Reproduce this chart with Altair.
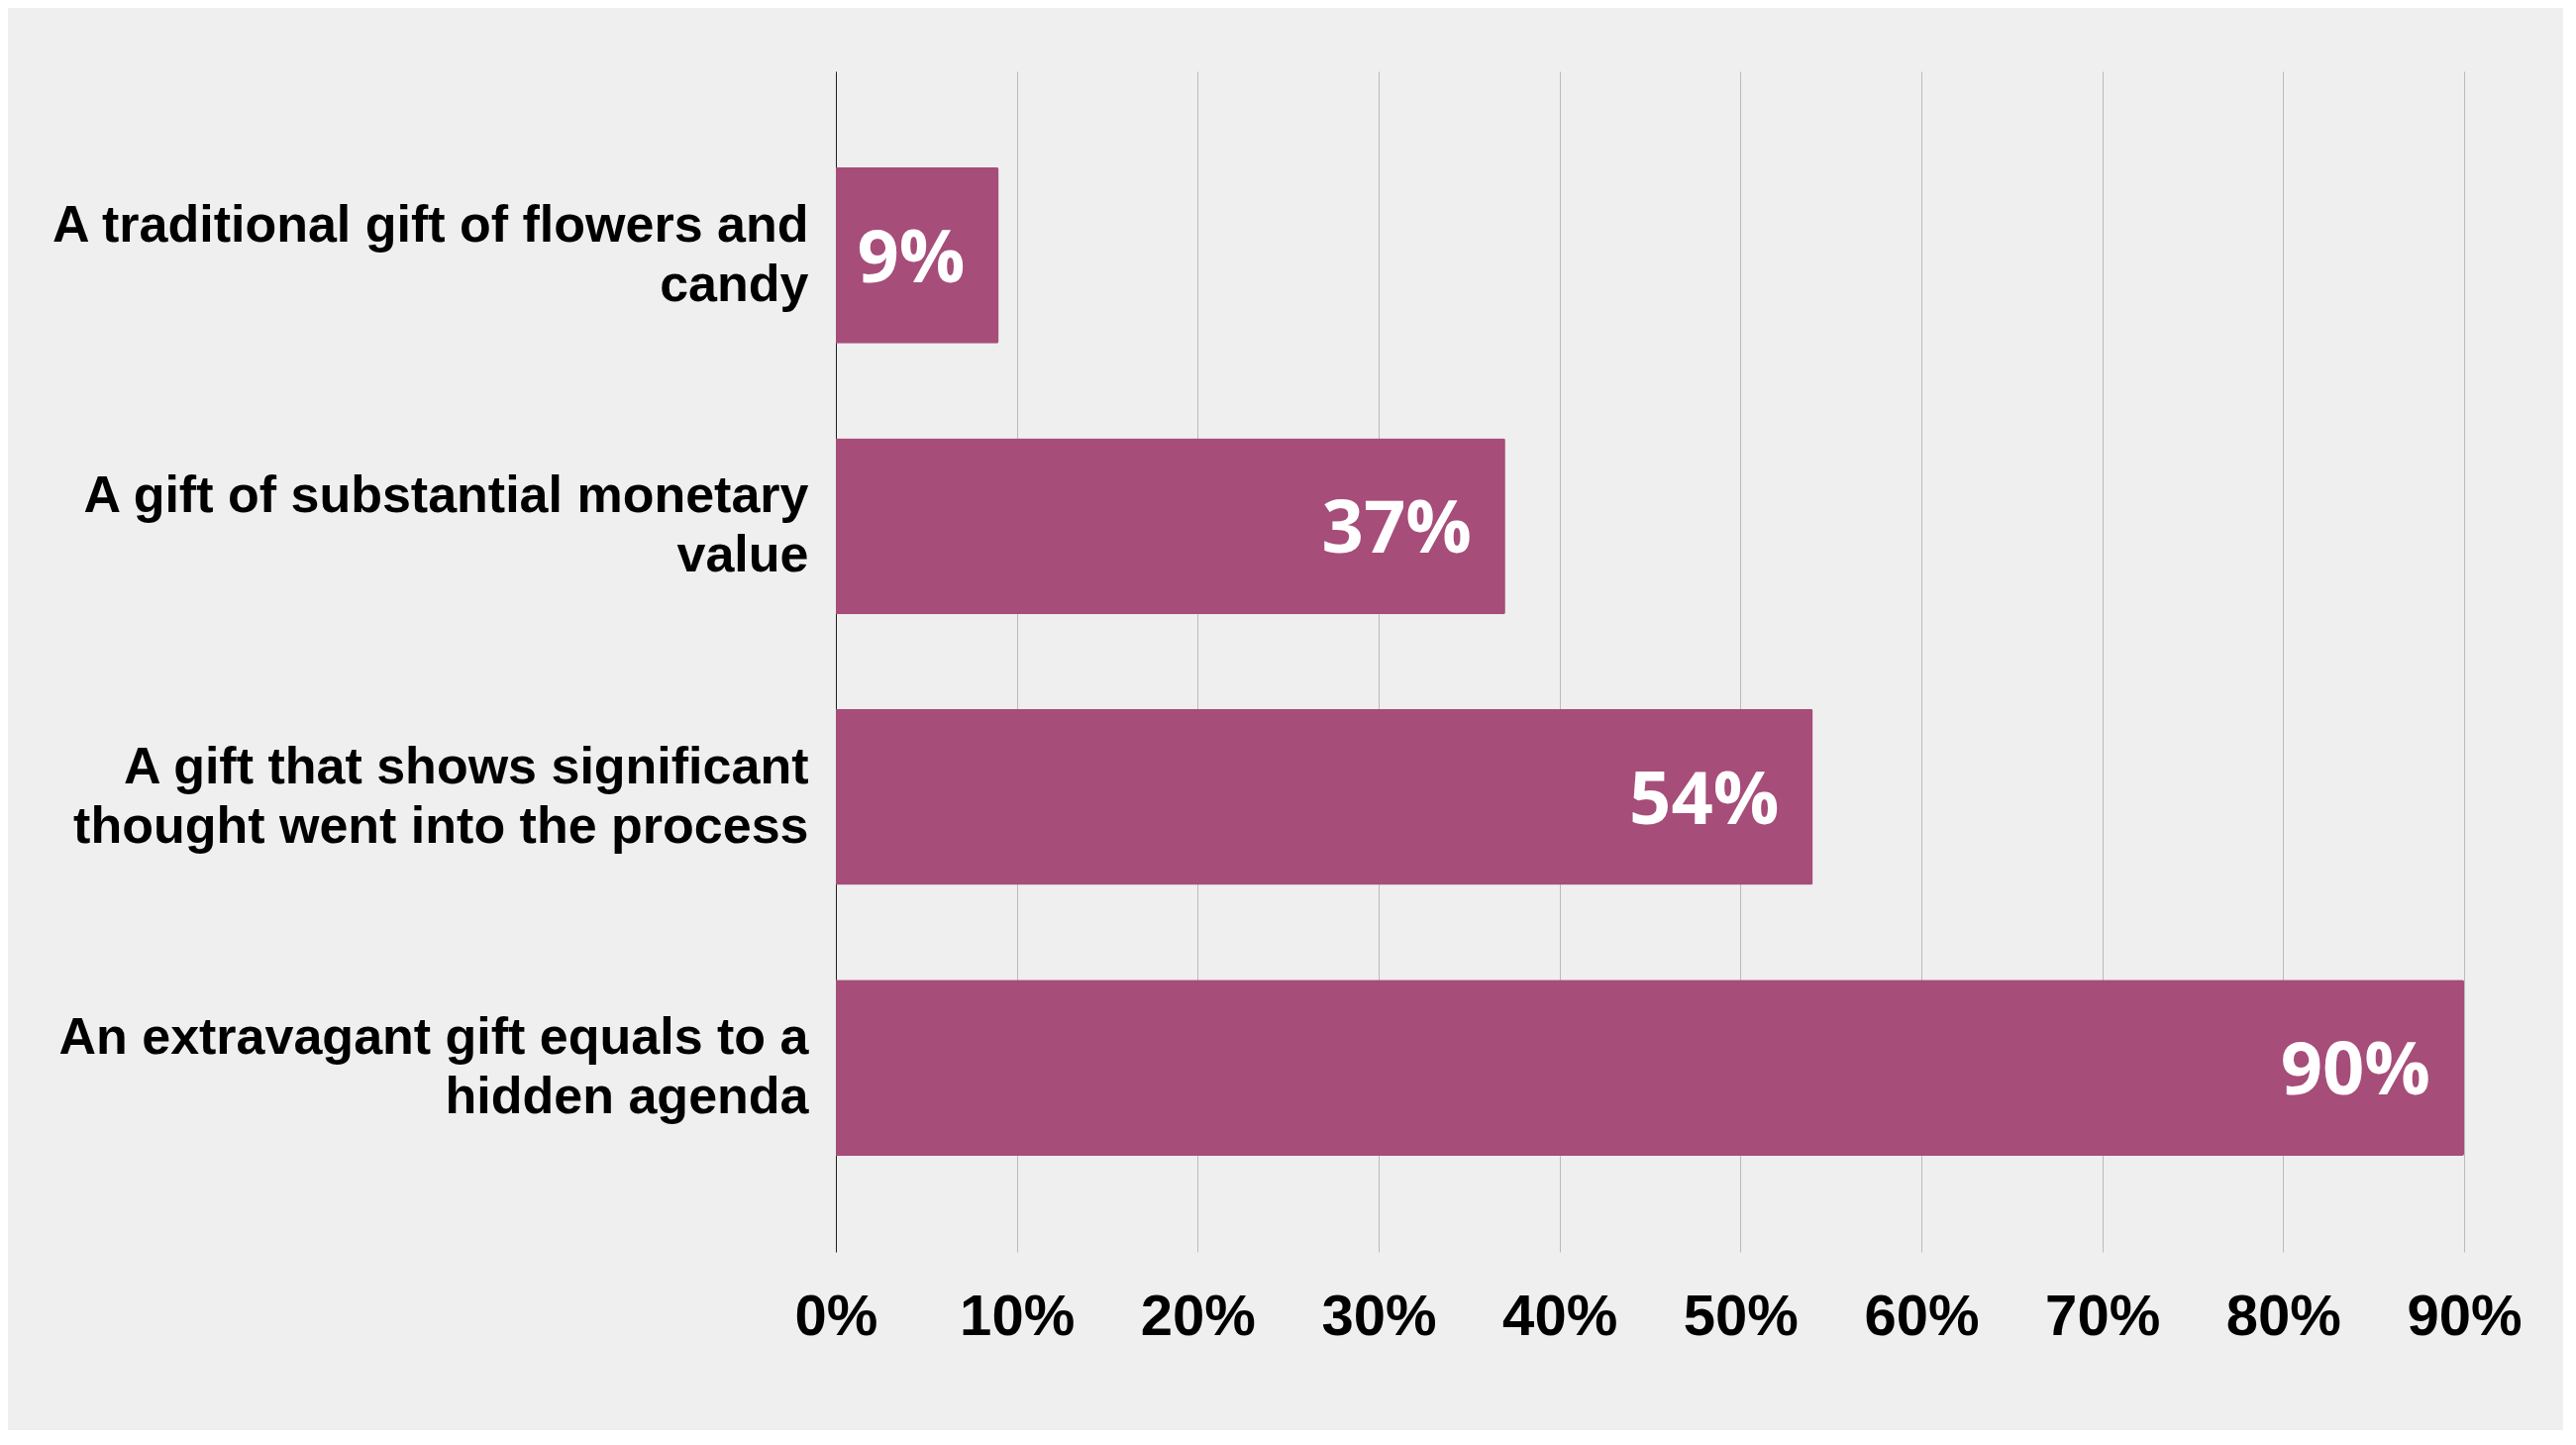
import altair as alt
import pandas as pd

categories = [
    "A traditional gift of flowers and candy",
    "A gift of substantial monetary value",
    "A gift that shows significant thought went into the process",
    "An extravagant gift equals to a hidden agenda",
]
label_lines = [
    ["A traditional gift of flowers and", "candy"],
    ["A gift of substantial monetary", "value"],
    ["A gift that shows significant", "thought went into the process"],
    ["An extravagant gift equals to a", "hidden agenda"],
]
values = [0.09, 0.37, 0.54, 0.90]
tick_values = [0, 0.1, 0.2, 0.3, 0.4, 0.5, 0.6, 0.7, 0.8, 0.9]

df = pd.DataFrame({"category": categories, "value": values})

mapping = "{" + ", ".join(
    "'" + c + "': [" + ", ".join("'" + l + "'" for l in lines) + "]"
    for c, lines in zip(categories, label_lines)
) + "}"

BAR = "#A64D79"

x = alt.X(
    "value:Q",
    scale=alt.Scale(domain=[0, 0.9], nice=False, zero=True),
    axis=alt.Axis(
        values=tick_values,
        format=".0%",
        title=None,
        domain=False,
        ticks=False,
        grid=True,
        gridColor="#BBBBBB",
        gridWidth=1,
        labelFont="Liberation Sans",
        labelFontWeight="bold",
        labelFontSize=58,
        labelColor="#000000",
        labelPadding=37,
        labelFlush=False,
    ),
)
y = alt.Y(
    "category:N",
    sort=categories,
    scale=alt.Scale(paddingInner=0.35, paddingOuter=0.355),
    axis=alt.Axis(
        title=None,
        domain=True,
        domainColor="#222222",
        domainWidth=1,
        ticks=False,
        grid=False,
        labelExpr=mapping + "[datum.label]",
        labelFont="Liberation Sans",
        labelFontWeight="bold",
        labelFontSize=52,
        labelLineHeight=60,
        labelColor="#000000",
        labelPadding=28,
        labelOffset=-30,
        labelLimit=1200,
    ),
)

bars = alt.Chart(df).mark_bar(color=BAR, cornerRadiusTopRight=2, cornerRadiusBottomRight=2).encode(x=x, y=y)
text = alt.Chart(df).mark_text(
    align="right",
    baseline="middle",
    dx=-34,
    dy=5,
    color="white",
    font="Open Sans",
    fontWeight="bold",
    fontSize=74,
).encode(
    x=alt.X("value:Q"),
    y=alt.Y("category:N", sort=categories),
    text=alt.Text("value:Q", format=".0%"),
)

chart = (
    alt.layer(bars, text)
    .properties(
        width=1644,
        height=1192,
        background="#EFEFEF",
        autosize=alt.AutoSizeParams(type="none"),
        padding={"left": 836, "top": 64, "right": 100, "bottom": 180},
    )
    .configure_view(stroke=None)
)

chart.save("out.html", embed_options={"renderer": "svg", "actions": False})
